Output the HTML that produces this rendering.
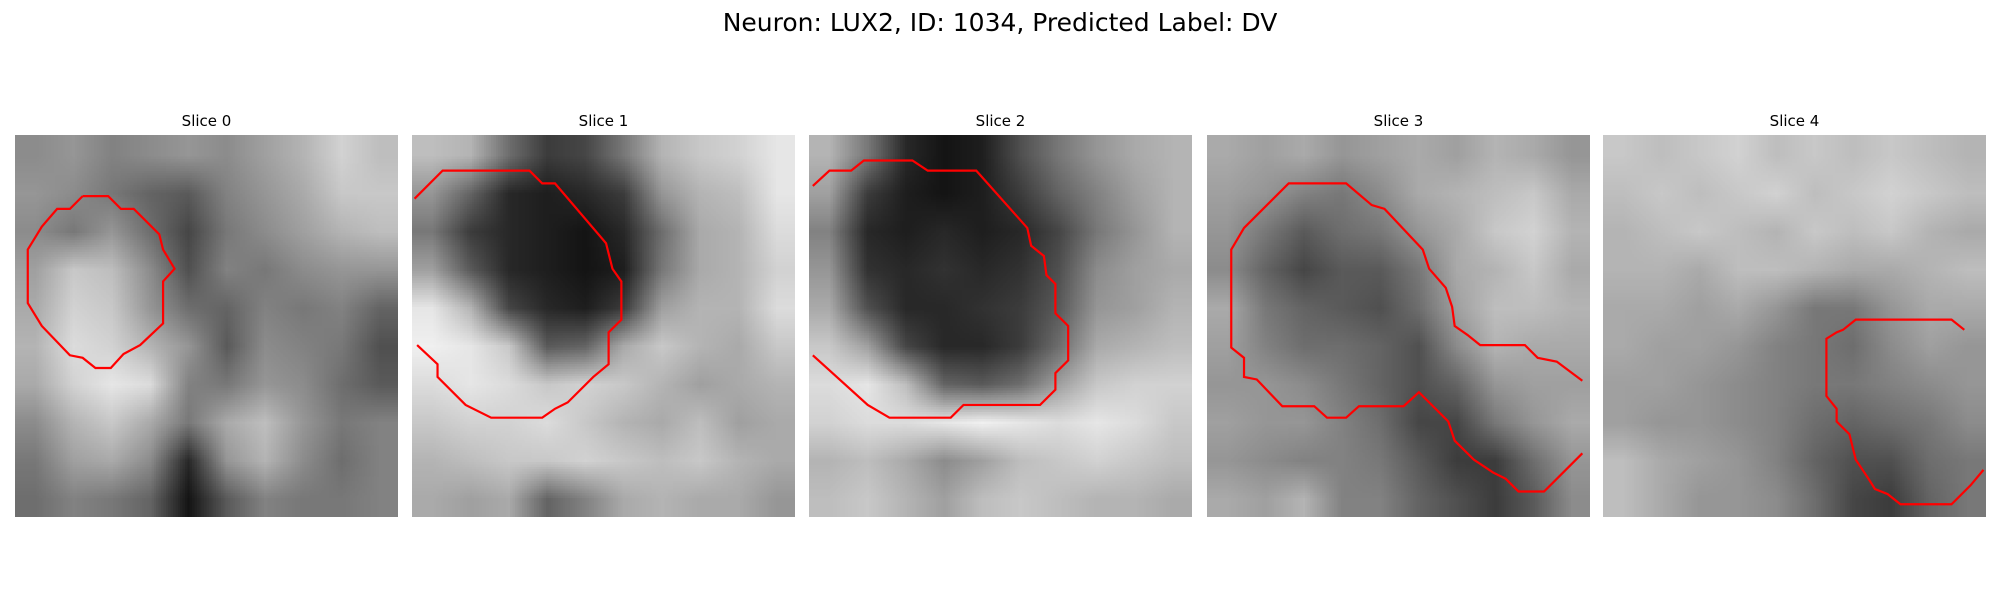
<!DOCTYPE html>
<html><head><meta charset="utf-8">
<style>
body{margin:0;background:#fff;width:2000px;height:600px;position:relative;overflow:hidden;font-family:"DejaVu Sans","Liberation Sans",sans-serif}
.sup{position:absolute;top:8px;left:0;width:2000px;text-align:center;font-size:25px;color:#000}
.panel{position:absolute;top:135px;width:383px;height:382px}
.panel canvas{position:absolute;left:0;top:0;width:383px;height:382px}
.panel svg{position:absolute;left:0;top:0;width:383px;height:382px}
.ttl{position:absolute;top:-23px;left:0;width:383px;text-align:center;font-size:15px;color:#000}
</style></head><body>
<div class="sup">Neuron: LUX2, ID: 1034, Predicted Label: DV</div>
<div id="wrap"></div>
<script>
const sliceTitles=["Slice 0","Slice 1","Slice 2","Slice 3","Slice 4"];
const img0=[[140,150,130,140,150,140,160,180,210,190],[150,140,120,100,90,130,150,170,200,200],[140,120,150,110,70,120,140,160,180,190],[160,200,190,140,80,130,120,140,150,150],[170,210,200,150,110,100,130,120,130,100],[180,220,210,180,150,90,140,130,120,80],[170,210,230,220,130,120,150,140,110,90],[140,180,200,170,120,170,190,150,120,130],[120,160,170,140,40,150,180,140,110,130],[110,130,120,100,20,90,130,120,120,130]];
const img1=[[190,180,110,60,70,120,180,200,210,230],[150,100,40,30,40,60,150,180,190,230],[120,60,40,30,20,40,110,170,180,220],[160,90,40,30,20,30,120,170,180,210],[230,180,70,40,30,60,160,180,180,220],[240,230,200,90,100,170,200,180,170,200],[220,230,220,200,210,200,180,160,170,180],[200,210,210,220,200,180,170,190,160,170],[180,190,200,200,210,200,190,200,180,170],[170,160,170,100,130,170,180,170,170,150]];
const img2=[[180,120,40,20,30,80,120,150,170,180],[160,60,30,20,30,60,100,130,160,180],[130,40,30,40,30,40,70,120,150,180],[150,50,40,50,40,50,80,140,160,170],[170,80,40,40,50,60,90,150,160,180],[200,160,70,40,40,60,110,170,180,190],[220,230,190,100,90,110,160,200,210,210],[210,220,220,230,240,230,220,230,220,200],[180,190,170,140,160,190,200,210,200,190],[190,200,180,160,190,200,190,180,180,170]];
const img3=[[170,160,170,150,160,170,160,180,170,150],[160,150,130,120,140,170,180,190,200,170],[150,120,90,110,120,150,170,200,210,180],[140,100,70,90,90,120,170,180,200,170],[170,120,100,90,80,110,160,190,190,180],[160,130,110,110,100,80,140,180,170,170],[150,150,140,120,100,80,100,150,160,160],[160,150,150,130,110,70,70,120,150,170],[150,140,130,130,120,90,60,60,110,150],[170,160,180,130,130,100,80,60,90,140]];
const img4=[[200,190,200,210,190,200,190,200,190,180],[190,200,190,200,210,190,200,210,200,190],[180,190,200,190,180,200,190,200,180,170],[180,180,170,190,190,180,170,170,180,190],[170,170,160,170,150,120,120,150,170,170],[170,160,160,150,130,120,110,140,160,150],[160,160,150,140,130,120,120,130,140,150],[160,150,150,140,130,110,100,110,120,140],[190,170,160,150,130,100,80,80,110,120],[190,170,150,150,140,110,70,60,100,120]];
const contour0=[[5.3,4.8],[7.3,4.8],[8.3,5.8],[9.3,5.8],[11.3,7.8],[11.6,9],[12.5,10.5],[11.6,11.5],[11.6,14.8],[9.8,16.5],[8.5,17.2],[7.5,18.3],[6.3,18.3],[5.3,17.5],[4.3,17.3],[2.1,15],[1,13.2],[1,9],[2.1,7.2],[3.3,5.8],[4.3,5.8],[5.3,4.8]];
const contour1=[[0.2,5],[2.4,2.8],[9.2,2.8],[10.2,3.8],[11.2,3.8],[15.2,8.5],[15.7,10.5],[16.4,11.5],[16.4,14.5],[15.4,15.5],[15.4,18],[14.2,19],[12.2,21],[11.2,21.5],[10.2,22.2],[6.2,22.2],[4.2,21.2],[2,19],[2,18],[0.4,16.5]];
const contour2=[[0.3,4],[1.6,2.8],[3.3,2.8],[4.3,2],[8.1,2],[9.3,2.8],[13.1,2.8],[17.1,7.3],[17.4,8.7],[18.4,9.5],[18.6,11],[19.3,11.7],[19.3,14],[20.3,15],[20.3,17.7],[19.3,18.7],[19.3,20],[18.1,21.2],[12.1,21.2],[11.1,22.2],[6.3,22.2],[4.6,21.2],[0.3,17.3]];
const contour3=[[29.4,25],[28.9,25.5],[27.4,27],[26.4,28],[24.4,28],[23.4,27],[22.4,26.5],[20.9,25.5],[19.4,24],[18.9,22.5],[17.4,21],[16.6,20.2],[15.4,21.3],[11.9,21.3],[10.9,22.2],[9.4,22.2],[8.4,21.3],[5.9,21.3],[3.9,19.2],[2.9,19],[2.9,17.5],[1.9,16.7],[1.9,9],[2.9,7.3],[6.4,3.8],[10.9,3.8],[12.9,5.5],[13.9,5.8],[16.9,9],[17.4,10.5],[18.7,12],[19.2,13.5],[19.4,15],[20.4,15.7],[21.4,16.5],[24.9,16.5],[25.9,17.5],[27.4,17.8],[29.4,19.3]];
const contour4=[[28.3,15.3],[27.3,14.5],[19.8,14.5],[18.8,15.3],[18.3,15.5],[17.5,16],[17.5,20.5],[18.3,21.5],[18.3,22.5],[19.3,23.5],[19.8,25.5],[20.8,27],[21.3,27.8],[22.3,28.2],[23.3,29],[27.3,29],[28.8,27.5],[29.8,26.3]];
const images=[img0,img1,img2,img3,img4];
const contours=[contour0,contour1,contour2,contour3,contour4];
const lefts=[15,412,809,1207,1603];
const wrap=document.getElementById('wrap');
images.forEach((im,k)=>{
  const p=document.createElement('div');
  p.className='panel';p.style.left=lefts[k]+'px';
  
  
  const t=document.createElement('div');t.className='ttl';t.textContent=sliceTitles[k];
  
  
  p.appendChild(t);
  const c=document.createElement('canvas');c.width=im[0].length;c.height=im.length;
  
  
  const ctx=c.getContext('2d');
  im.forEach((row,r)=>row.forEach((v,q)=>{ctx.fillStyle='rgb('+v+','+v+','+v+')';ctx.fillRect(q,r,1,1);}));
  p.appendChild(c);
  const ns='http://www.w3.org/2000/svg';
  const s=document.createElementNS(ns,'svg');s.setAttribute('viewBox','0 0 30 30');s.setAttribute('preserveAspectRatio','none');
  const pl=document.createElementNS(ns,'polyline');
  
  
  pl.setAttribute('points',contours[k].map(a=>a[0]+','+a[1]).join(' '));
  pl.setAttribute('fill','none');pl.setAttribute('stroke','#ff0000');pl.setAttribute('stroke-width','2.2');
  pl.setAttribute('vector-effect','non-scaling-stroke');
  s.appendChild(pl);p.appendChild(s);
  wrap.appendChild(p);
});
</script>
</body></html>
